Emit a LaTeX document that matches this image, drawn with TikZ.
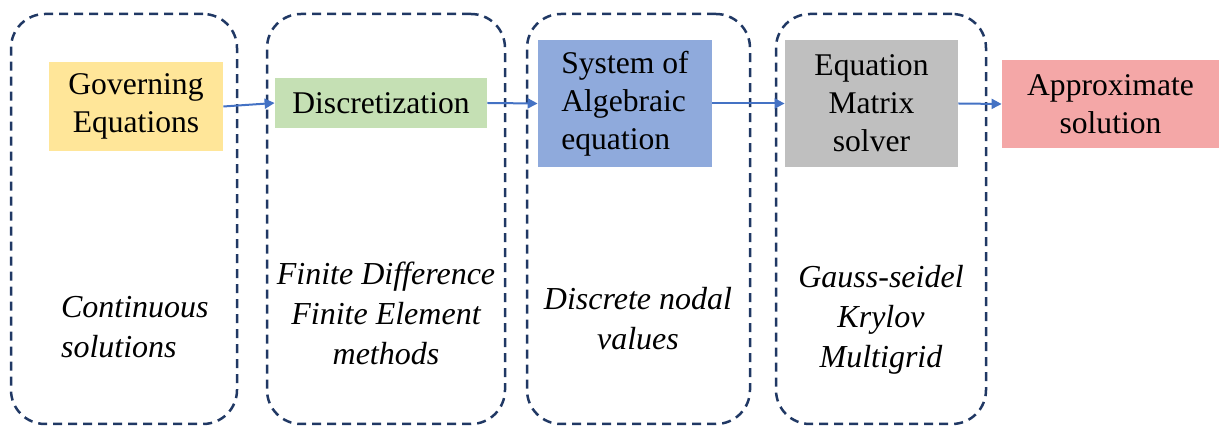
\documentclass[tikz,border=0pt]{standalone}
\usepackage{fontspec}
\setmainfont{Liberation Serif}
\usepackage{tikz}
\usetikzlibrary{arrows.meta}

\definecolor{frameblue}{HTML}{203864}
\definecolor{arrowblue}{HTML}{4472C4}
\definecolor{govyellow}{HTML}{FFE699}
\definecolor{discgreen}{HTML}{C5E0B4}
\definecolor{sysblue}{HTML}{8FAADC}
\definecolor{solvgray}{HTML}{BFBFBF}
\definecolor{approxpink}{HTML}{F4A7A7}

\tikzset{
    stage/.style={draw=frameblue,line width=1.25pt,dash pattern=on 4.5pt off 3pt,
        rounded corners=17pt,minimum height=205pt,inner sep=0pt},
    block/.style={inner sep=0pt,align=center,font=\fontsize{15.8}{19}\selectfont},
    method/.style={align=center,font=\fontsize{16}{20}\selectfont\itshape},
    flow/.style={draw=arrowblue,line width=1pt,-{Triangle[length=5pt,width=5pt]}}
}

\begin{document}
\begin{tikzpicture}[x=0.5pt,y=-0.5pt]
        \useasboundingbox (0,0) rectangle (1221,426);
        % dashed stages
        \node[stage,minimum width=113pt] (c1) at (124,219) {};
        \node[stage,minimum width=119pt] (c2) at (386,219) {};
        \node[stage,minimum width=111.5pt] (c3) at (638.5,219) {};
        \node[stage,minimum width=105pt] (c4) at (881,219) {};

        % coloured blocks
        \node[block,fill=govyellow,minimum width=87pt,minimum height=44.5pt] (gov) at (136,106.5) {Governing\\Equations};
        \node[block,fill=discgreen,minimum width=106pt,minimum height=25pt] (disc) at (381,103) {Discretization};
        \node[block,fill=sysblue,minimum width=87pt,minimum height=63.5pt,align=left] (sys) at (625,103.5) {System of\\Algebraic\\equation};
        \node[block,fill=solvgray,minimum width=86.5pt,minimum height=63.5pt] (solv) at (871.5,103.5) {Equation\\Matrix\\solver};
        \node[block,fill=approxpink,minimum width=108.5pt,minimum height=44pt] (approx) at (1110.5,104) {Approximate\\solution};

        % methods
        \node[method,align=left,anchor=west] (cont) at (54,327) {Continuous\\solutions};
        \node[method] (fdfe) at (386,313) {Finite Difference\\Finite Element\\methods};
        \node[method] (nodal) at (638,319) {Discrete nodal\\values};
        \node[method] (iter) at (881,320) {Gauss-seidel\\Krylov\\Multigrid};

        \draw[flow] (gov.east) -- (disc.west);
        \draw[flow] (disc.east) -- (sys.west);
        \draw[flow] (sys.east) -- (solv.west);
        \draw[flow] (solv.east) -- (approx.west);
\end{tikzpicture}
\end{document}
